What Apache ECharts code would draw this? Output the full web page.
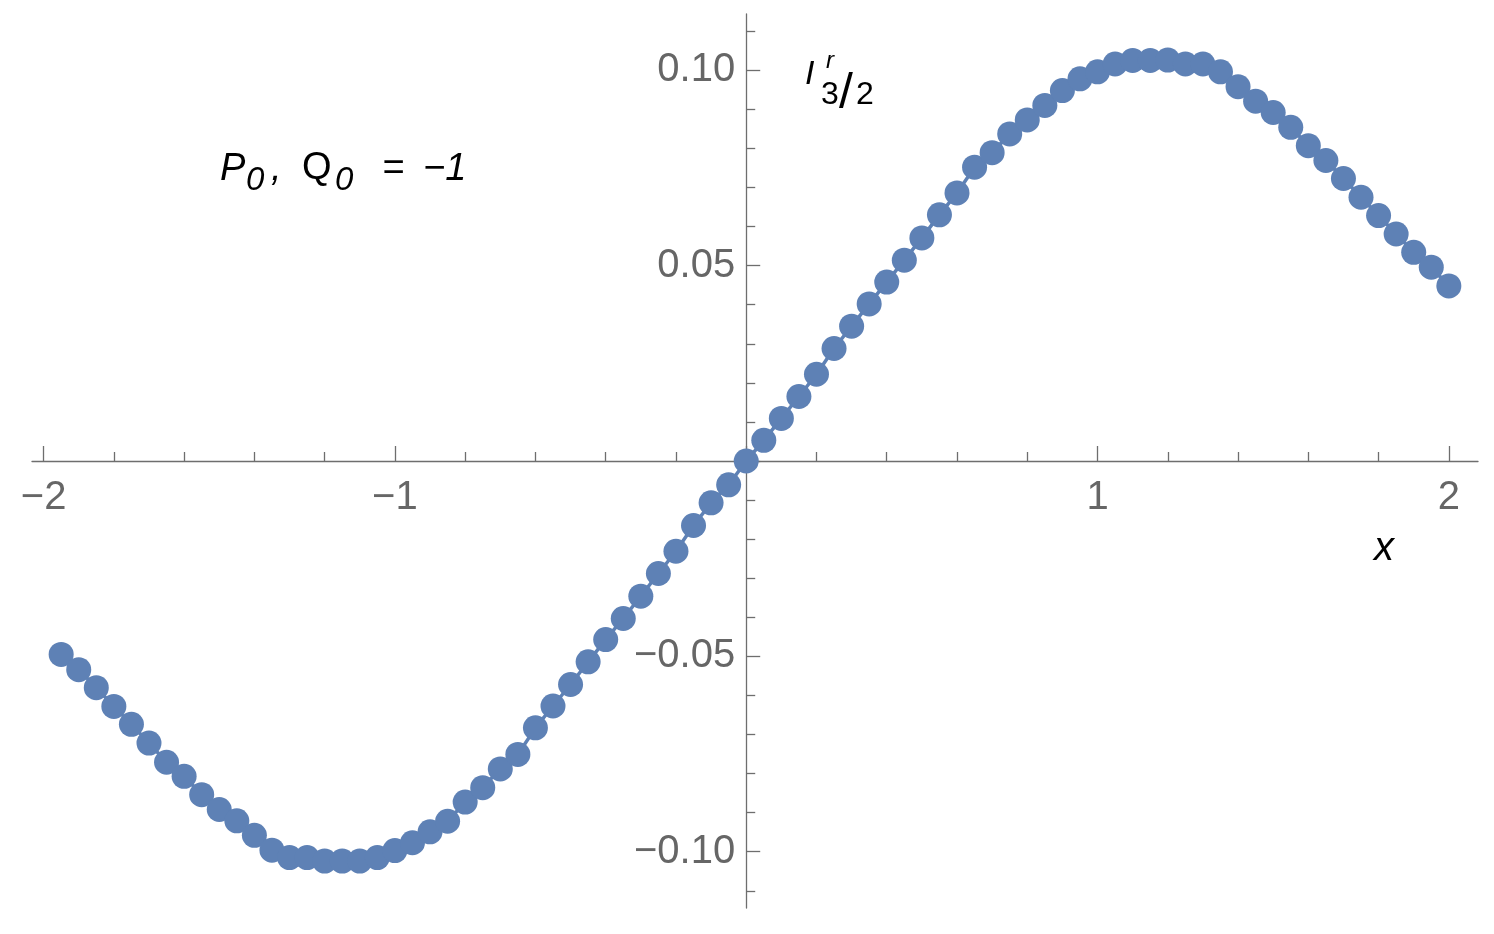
<!DOCTYPE html>
<html>
<head>
<meta charset="utf-8">
<script src="https://cdn.jsdelivr.net/npm/echarts@6/dist/echarts.min.js"></script>
<style>
html, body { margin: 0; padding: 0; background: #fff; }
#chart { width: 1494px; height: 934px; }
</style>
</head>
<body>
<div id="chart"></div>
<script>
// sample points
var xValues = [-1.95, -1.9, -1.85, -1.8, -1.75, -1.7, -1.65, -1.6, -1.55, -1.5,
               -1.45, -1.4, -1.35, -1.3, -1.25, -1.2, -1.15, -1.1, -1.05, -1.0,
               -0.95, -0.9, -0.85, -0.8, -0.75, -0.7, -0.65, -0.6, -0.55, -0.5,
               -0.45, -0.4, -0.35, -0.3, -0.25, -0.2, -0.15, -0.1, -0.05, 0,
               0.05, 0.1, 0.15, 0.2, 0.25, 0.3, 0.35, 0.4, 0.45, 0.5,
               0.55, 0.6, 0.65, 0.7, 0.75, 0.8, 0.85, 0.9, 0.95, 1.0,
               1.05, 1.1, 1.15, 1.2, 1.25, 1.3, 1.35, 1.4, 1.45, 1.5,
               1.55, 1.6, 1.65, 1.7, 1.75, 1.8, 1.85, 1.9, 1.95, 2.0];
var yValues = [-0.0495, -0.0534, -0.0580, -0.0628, -0.0674, -0.0722, -0.0771, -0.0807, -0.0854, -0.0892,
               -0.0921, -0.0958, -0.0996, -0.1015, -0.1015, -0.1024, -0.1024, -0.1024, -0.1015, -0.0997,
               -0.0977, -0.0949, -0.0922, -0.0873, -0.0836, -0.0788, -0.0751, -0.0683, -0.0627, -0.0572,
               -0.0514, -0.0457, -0.0403, -0.0346, -0.0288, -0.0231, -0.0165, -0.0107, -0.0061, 0.0000,
               0.0053, 0.0109, 0.0165, 0.0222, 0.0288, 0.0345, 0.0402, 0.0458, 0.0514, 0.0571,
               0.0630, 0.0686, 0.0752, 0.0789, 0.0837, 0.0873, 0.0910, 0.0948, 0.0978, 0.0996,
               0.1016, 0.1025, 0.1025, 0.1026, 0.1016, 0.1016, 0.0996, 0.0958, 0.0921, 0.0892,
               0.0854, 0.0807, 0.0769, 0.0723, 0.0675, 0.0628, 0.0581, 0.0534, 0.0496, 0.0448];

// ticks / labels
var xMajorTicks = [-2, -1, 0, 1, 2];
var xTickLabels = [-2, -1, 1, 2];
var xMinorTicks = [-1.8, -1.6, -1.4, -1.2, -0.8, -0.6, -0.4, -0.2,
                   0.2, 0.4, 0.6, 0.8, 1.2, 1.4, 1.6, 1.8];
var yMajorTicks = [-0.1, -0.05, 0, 0.05, 0.1];
var yTickLabels = [-0.1, -0.05, 0.05, 0.1];
var yMinorTicks = [-0.11, -0.09, -0.08, -0.07, -0.06, -0.04, -0.03, -0.02, -0.01,
                   0.01, 0.02, 0.03, 0.04, 0.06, 0.07, 0.08, 0.09, 0.11];

var xRange = [-2.033, 2.083];
var yRange = [-0.1144, 0.1144];

var axisColor = '#6e6e6e';
var labelColor = '#666666';
var dotColor = '#5E81B5';
var fontFamily = 'Liberation Sans';

// plot box
var gridLeft = 32, gridTop = 14, gridWidth = 1446, gridHeight = 894;
// where the axes cross (x = 0, y = 0), in pixels from the grid edges
var zeroX = gridWidth * (0 - xRange[0]) / (xRange[1] - xRange[0]);
var zeroY = gridHeight * (yRange[1] - 0) / (yRange[1] - yRange[0]);

var points = xValues.map(function (x, i) {
    return [x, yValues[i]];
});

function minus(s) {
    return String(s).replace('-', '\u2212');
}

// plain text pieces for the math-style annotations
function txt(text, x, y, size, italic) {
    return {
        type: 'text',
        x: x,
        y: y,
        silent: true,
        style: {
            text: text,
            fill: '#000',
            font: (italic ? 'italic ' : '') + size + 'px "' + fontFamily + '"',
            align: 'left',
            verticalAlign: 'middle'
        }
    };
}

var myChart = echarts.init(document.getElementById('chart'));

var option = {
    animation: false,
    backgroundColor: '#fff',
    grid: { left: gridLeft, top: gridTop, width: gridWidth, height: gridHeight,
            containLabel: false, outerBoundsMode: 'none' },
    xAxis: [{
        type: 'value',
        min: xRange[0],
        max: xRange[1],
        position: 'bottom',
        offset: -(gridHeight - zeroY),
        axisLine: { show: true, onZero: false, lineStyle: { color: axisColor, width: 1.3 } },
        axisTick: { show: true, inside: true, length: 15, customValues: xMajorTicks,
                    lineStyle: { color: axisColor, width: 1.3 } },
        axisLabel: { show: true, customValues: xTickLabels, margin: 17, fontSize: 40,
                     fontFamily: fontFamily, color: labelColor,
                     formatter: function (v) { return minus(v); } },
        splitLine: { show: false }
    }, {
        // minor ticks only
        type: 'value',
        min: xRange[0],
        max: xRange[1],
        position: 'top',
        offset: -zeroY,
        axisLine: { show: false, onZero: false },
        axisTick: { show: true, inside: false, length: 9, customValues: xMinorTicks,
                    lineStyle: { color: axisColor, width: 1.3 } },
        axisLabel: { show: false },
        splitLine: { show: false }
    }],
    yAxis: [{
        type: 'value',
        min: yRange[0],
        max: yRange[1],
        position: 'left',
        offset: -zeroX,
        axisLine: { show: true, onZero: false, lineStyle: { color: axisColor, width: 1.3 } },
        axisTick: { show: true, inside: true, length: 14, customValues: yMajorTicks,
                    lineStyle: { color: axisColor, width: 1.3 } },
        axisLabel: { show: true, customValues: yTickLabels, margin: 11, fontSize: 40,
                     fontFamily: fontFamily, color: labelColor,
                     formatter: function (v) { return minus(v.toFixed(2)); } },
        splitLine: { show: false }
    }, {
        // minor ticks only
        type: 'value',
        min: yRange[0],
        max: yRange[1],
        position: 'right',
        offset: -(gridWidth - zeroX),
        axisLine: { show: false, onZero: false },
        axisTick: { show: true, inside: false, length: 9, customValues: yMinorTicks,
                    lineStyle: { color: axisColor, width: 1.3 } },
        axisLabel: { show: false },
        splitLine: { show: false }
    }],
    series: [{
        type: 'line',
        xAxisIndex: 0,
        yAxisIndex: 0,
        data: points,
        symbol: 'circle',
        symbolSize: 25,
        showSymbol: true,
        lineStyle: { color: dotColor, width: 3.5 },
        itemStyle: { color: dotColor },
        z: 5
    }],
    graphic: [
        // P0, Q0 = -1
        txt('P', 220, 169, 38, true),
        txt('0', 246, 181, 33, true),
        txt(',', 271, 169, 38, true),
        txt('Q', 302, 169, 38, false),
        txt('0', 335, 181, 33, true),
        txt('=', 382, 169, 38, true),
        txt('\u22121', 423, 169, 38, true),
        // I^r_{3/2}
        txt('I', 805, 75, 34, true),
        txt('r', 826, 61, 24, true),
        txt('3', 821, 95, 32, false),
        txt('/', 839, 94, 50, false),
        txt('2', 856, 95, 32, false),
        // axis name
        txt('x', 1374, 549, 40, true)
    ]
};

myChart.setOption(option);
</script>
</body>
</html>
